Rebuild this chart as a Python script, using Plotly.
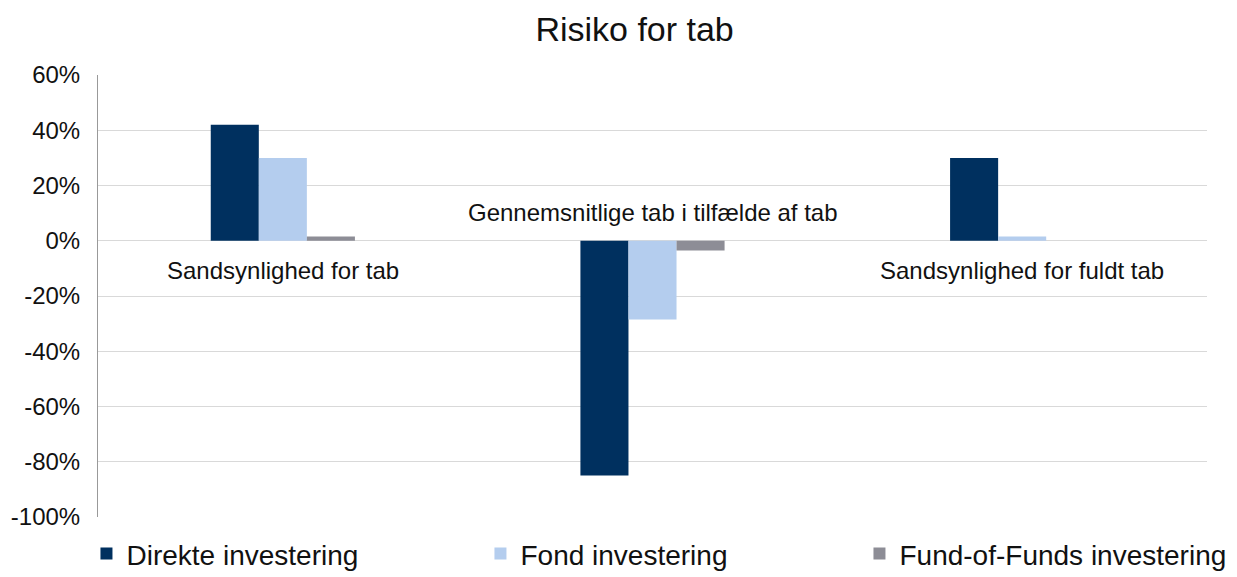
import plotly.graph_objects as go

categories = ["Sandsynlighed for tab", "Gennemsnitlige tab i tilfælde af tab", "Sandsynlighed for fuldt tab"]
series_names = ["Direkte investering", "Fond investering", "Fund-of-Funds investering"]
direkte = [42, -85, 30]
fond = [30, -28.5, 1.5]
fof = [1.5, -3.5, 0]
colors = ["#00305F", "#B4CDEE", "#8D8D96"]
y_ticks = [-100, -80, -60, -40, -20, 0, 20, 40, 60]
y_tick_labels = [f"{v}%" for v in y_ticks]

font = "Liberation Sans, Arial, sans-serif"
legend_ids = ["legend", "legend2", "legend3"]
legend_x = [0.0699, 0.3884, 0.6948]

fig = go.Figure()
for name, vals, col, lid in zip(series_names, [direkte, fond, fof], colors, legend_ids):
    fig.add_trace(go.Bar(name=name, x=categories, y=vals, marker_color=col,
                         marker_line_width=0, legend=lid))

for cat, d in zip(categories, direkte):
    neg = d < 0
    fig.add_annotation(x=cat, y=0, text=cat, showarrow=False,
                       yshift=28 if neg else -30,
                       font=dict(family=font, size=24, color="#111111"))

legend_common = dict(orientation="h", xref="container", yref="container",
                     xanchor="left", y=0.04, yanchor="middle",
                     bgcolor="rgba(0,0,0,0)",
                     font=dict(family=font, size=28, color="#111111"))

fig.update_layout(
    width=1237, height=577,
    margin=dict(l=98, r=30, t=75, b=60, autoexpand=False),
    paper_bgcolor="white", plot_bgcolor="white",
    barmode="group", bargap=0.61, bargroupgap=0,
    title=dict(text="Risiko for tab", x=0.513, xanchor="center", y=0.95, yanchor="middle",
               font=dict(family=font, size=34, color="#111111")),
    font=dict(family=font, color="#111111"),
    xaxis=dict(showticklabels=False, showgrid=False, zeroline=False, showline=False, ticks=""),
    yaxis=dict(range=[-100, 60], tickvals=y_ticks, ticktext=y_tick_labels, showgrid=True,
               gridcolor="#D9D9D9", gridwidth=1, zeroline=True, zerolinecolor="#D9D9D9",
               zerolinewidth=1, showline=True, linecolor="#999999", linewidth=1,
               tickfont=dict(family=font, size=24, color="#111111"), ticks="", ticklen=0,
               ticklabelstandoff=12),
    showlegend=True,
    legend=dict(x=legend_x[0], **legend_common),
    legend2=dict(x=legend_x[1], **legend_common),
    legend3=dict(x=legend_x[2], **legend_common),
)

fig.write_html("out.html")
